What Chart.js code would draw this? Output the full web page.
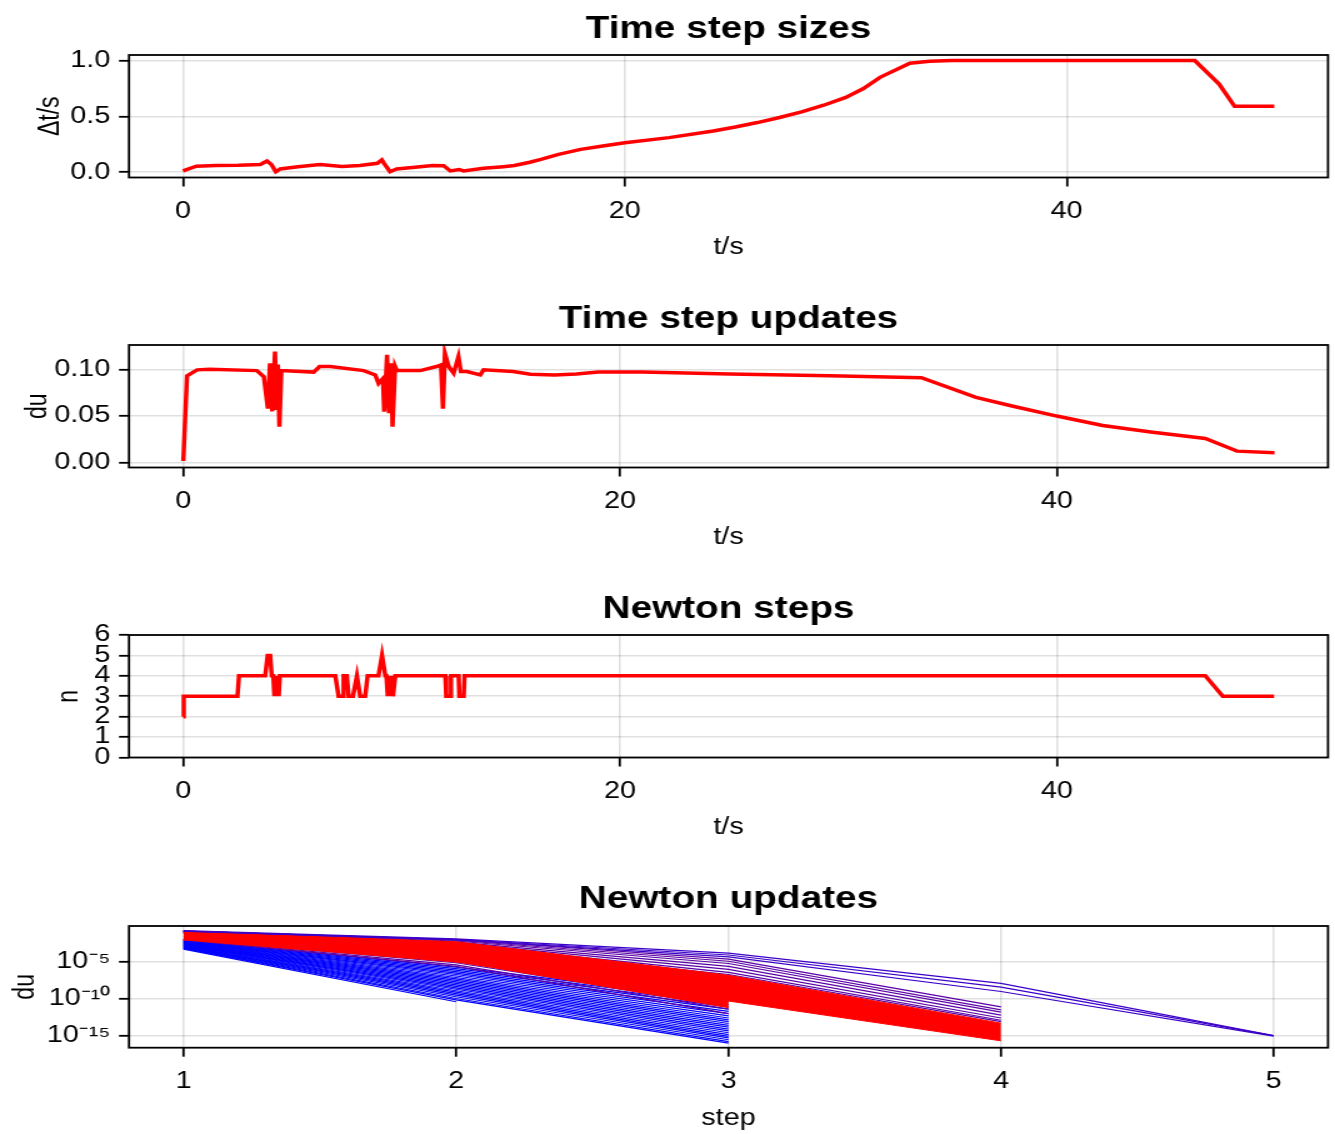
<!DOCTYPE html>
<html>
<head>
<meta charset="utf-8">
<script src="https://cdn.jsdelivr.net/npm/chart.js@4"></script>
<style>
body { margin: 0; background: #fff; }
canvas { display: block; }
</style>
</head>
<body>
<canvas id="sizes" width="1068" height="290" style="width:1335px;height:290px"></canvas>
<canvas id="updates" width="1068" height="290" style="width:1335px;height:290px"></canvas>
<canvas id="steps" width="1068" height="290" style="width:1335px;height:290px"></canvas>
<canvas id="newton" width="1068" height="264" style="width:1335px;height:264px"></canvas>
<script>
// Time step sizes
const sizeT = [0, 0.6, 1.5, 2.5, 3.5, 3.8, 4.0, 4.2, 4.4, 5.2, 6.2, 7.2, 8.0, 8.8, 9.0, 9.1, 9.37, 9.67, 10.5, 11.3, 11.8, 12.1, 12.5, 12.7, 13.6, 14.5, 15.0, 15.7, 16.2, 17, 18, 19, 20, 22, 24, 25, 26, 27, 28, 29, 30, 30.8, 31.55, 32.9, 33.8, 34.8, 45.8, 46.9, 47.6, 49.4];
const sizeDt = [0.012, 0.054, 0.06, 0.062, 0.069, 0.10, 0.07, 0.004, 0.03, 0.05, 0.07, 0.052, 0.06, 0.08, 0.11, 0.08, 0.005, 0.03, 0.045, 0.06, 0.058, 0.012, 0.025, 0.012, 0.035, 0.05, 0.06, 0.09, 0.115, 0.16, 0.205, 0.235, 0.265, 0.31, 0.37, 0.405, 0.445, 0.49, 0.54, 0.60, 0.67, 0.75, 0.85, 0.976, 0.995, 1.0, 1.0, 0.79, 0.59, 0.59];

// Time step updates
const updT = [0, 0.17, 0.63, 1.2, 3.37, 3.69, 3.87, 3.97, 4.07, 4.2, 4.27, 4.33, 4.4, 4.49, 5.97, 6.24, 6.73, 8.26, 8.79, 8.94, 9.14, 9.2, 9.33, 9.42, 9.51, 9.58, 9.7, 9.78, 10.85, 11.6, 11.8, 11.89, 11.98, 12.15, 12.38, 12.6, 12.71, 12.99, 13.6, 13.75, 15.1, 15.9, 17, 18, 19, 21, 25, 29.6, 33.8, 36.3, 37.9, 40, 42.1, 44.3, 46.8, 48.25, 49.97];
const updDu = [0.002, 0.093, 0.0994, 0.1, 0.0986, 0.092, 0.058, 0.1065, 0.055, 0.119, 0.0565, 0.105, 0.0386, 0.0986, 0.097, 0.103, 0.103, 0.0986, 0.094, 0.085, 0.09, 0.0547, 0.1155, 0.053, 0.1065, 0.0386, 0.103, 0.0986, 0.0986, 0.103, 0.1047, 0.058, 0.117, 0.103, 0.0958, 0.1136, 0.0976, 0.0976, 0.094, 0.0994, 0.0976, 0.0948, 0.094, 0.095, 0.097, 0.097, 0.095, 0.0932, 0.0911, 0.07, 0.061, 0.05, 0.04, 0.033, 0.026, 0.0125, 0.0107];

// Newton steps
const stepT = [0, 0.02, 2.48, 2.55, 3.75, 3.86, 3.98, 4.05, 4.12, 4.17, 4.22, 4.27, 4.32, 4.37, 4.42, 6.96, 7.11, 7.31, 7.34, 7.49, 7.57, 7.77, 7.95, 8.10, 8.33, 8.44, 8.94, 9.10, 9.25, 9.30, 9.36, 9.42, 9.48, 9.55, 9.60, 9.71, 12.0, 12.04, 12.22, 12.26, 12.61, 12.64, 12.84, 12.88, 46.8, 47.6, 49.95];
const stepN = [2, 3, 3, 4, 4, 5, 5, 4, 4, 3, 4, 3, 4, 3, 4, 4, 3, 3, 4, 4, 3, 3, 4, 3, 3, 4, 4, 5, 4, 4, 3, 4, 3, 4, 3, 4, 4, 3, 3, 4, 4, 3, 3, 4, 4, 3, 3];

// Newton updates: log10(du) per iteration, one run per time step
const blueRuns = [
  [-3.25, -10.4],
  [-3.17, -10.15, -16.0],
  [-3.12, -9.95, -15.8],
  [-3.06, -9.72, -15.55],
  [-3.0, -9.5, -15.3],
  [-2.95, -9.3, -15.1],
  [-2.9, -9.1, -14.85],
  [-2.86, -8.9, -14.6],
  [-2.8, -8.7, -14.35],
  [-2.75, -8.5, -14.1],
  [-2.7, -8.3, -13.85],
  [-2.66, -8.1, -13.6],
  [-2.6, -7.9, -13.35],
  [-2.55, -7.7, -13.1],
  [-2.5, -7.5, -12.85],
  [-2.46, -7.3, -12.6],
  [-2.4, -7.1, -12.3],
  [-2.35, -6.9, -12.0],
  [-2.3, -6.7, -11.7],
  [-2.26, -6.5, -11.4],
  [-2.2, -6.3, -11.1],
  [-2.15, -6.1, -10.8],
  [-2.1, -5.9, -10.5],
  [-2.05, -5.7, -10.2]
];
const purpleRuns = [
  [-0.8, -1.95, -4.6, -11.1],
  [-0.85, -2.05, -4.9, -11.5],
  [-0.9, -2.15, -5.2, -11.8],
  [-0.95, -2.3, -5.6, -12.2],
  [-1.0, -2.45, -6.0, -12.6],
  [-1.05, -2.6, -6.4, -12.9],
  [-1.1, -2.8, -6.7, -13.1],
  [-1.9, -5.1, -10.8],
  [-1.95, -5.4, -11.4],
  [-2.0, -5.6, -12.0]
];
const topRuns = [
  [-0.75, -1.85, -3.8, -7.9, -15.0],
  [-0.8, -1.95, -4.05, -8.4, -15.0],
  [-0.82, -2.0, -4.3, -9.0, -15.05]
];
const redBandTop = [-0.9, -2.25, -6.8, -13.3];
const redBandBottom = [-2.0, -5.0, -10.3, -15.7];
const redShortTop = [-1.5, -4.2, -10.3];
const redShortBottom = [-1.9, -4.9, -11.2];

const timeTicks = [0, 20, 40];
const sizeTicks = [0, 0.5, 1.0];
const updTicks = [0, 0.05, 0.1];
const nTicks = [0, 1, 2, 3, 4, 5, 6];
const iterTicks = [1, 2, 3, 4, 5];
const duTicks = [1e-15, 1e-10, 1e-5];
const duTickLabels = ['10⁻¹⁵', '10⁻¹⁰', '10⁻⁵'];

Chart.defaults.font.family = "'Liberation Sans', Arial, Helvetica, sans-serif";
Chart.defaults.color = '#000';

const gridColor = 'rgba(0,0,0,0.12)';

const framePlugin = {
    id: 'frame',
    afterDatasetsDraw(chart) {
        const a = chart.chartArea;
        const ctx = chart.ctx;
        ctx.save();
        ctx.strokeStyle = '#000';
        ctx.lineWidth = 1.8;
        ctx.strokeRect(a.left, a.top, a.right - a.left, a.bottom - a.top);
        ctx.restore();
    }
};

function makeChart(id, o) {
    o.datasets.forEach(d => { d.xAxisID = 'x'; d.yAxisID = 'y'; });
    return new Chart(document.getElementById(id), {
        type: 'line',
        data: { datasets: o.datasets },
        plugins: [framePlugin],
        options: {
            responsive: false,
            animation: false,
            devicePixelRatio: 1,
            layout: { padding: { left: o.padLeft, right: 5.6, top: 0, bottom: o.padBottom } },
            plugins: { legend: { display: false }, tooltip: { enabled: false } },
            elements: { point: { radius: 0 }, line: { tension: 0 } },
            scales: {
                x: {
                    type: 'linear',
                    position: 'bottom',
                    min: o.xMin,
                    max: o.xMax,
                    afterBuildTicks: s => { s.ticks = o.xTicks.map(v => ({ value: v })); },
                    afterFit: s => { s.height = o.xH; },
                    grid: { color: gridColor, lineWidth: 1.6, tickLength: 9, tickColor: '#000', tickWidth: 1.8 },
                    border: { display: false },
                    ticks: { font: { size: 23 }, padding: 11, maxRotation: 0, autoSkip: false },
                    title: { display: true, text: o.xTitle, font: { size: 23 }, padding: { top: 0, bottom: 0 } }
                },
                y: {
                    type: o.yType || 'linear',
                    position: 'left',
                    min: o.yMin,
                    max: o.yMax,
                    afterBuildTicks: s => { s.ticks = o.yTicks.map(v => ({ value: v })); },
                    afterFit: s => { s.width = 103.2 - o.padLeft; },
                    grid: { color: gridColor, lineWidth: 1.6, tickLength: 8, tickColor: '#000', tickWidth: 1.8 },
                    border: { display: false },
                    ticks: { font: { size: 23 }, padding: 7, autoSkip: false, callback: o.yFmt },
                    title: { display: true, text: o.yTitle, font: { size: 23 }, padding: { top: 0, bottom: 0 } }
                },
                tt: {
                    type: 'linear',
                    position: 'top',
                    min: 0,
                    max: 1,
                    grid: { display: false, drawTicks: false },
                    border: { display: false },
                    ticks: { display: false },
                    title: { display: true, text: o.title, font: { size: 31, weight: 'bold' }, padding: { top: 11, bottom: 0 } },
                    afterFit: s => { s.height = o.topH; }
                }
            }
        }
    });
}

const pts = (xs, ys) => xs.map((x, i) => ({ x: x, y: ys[i] }));
const redLine = data => ({ data: data, borderColor: '#ff0000', borderWidth: 3.5, fill: false });

makeChart('sizes', {
    title: 'Time step sizes', xTitle: 't/s', yTitle: 'Δt/s',
    xMin: -2.445, xMax: 51.83, xTicks: timeTicks,
    yMin: -0.047, yMax: 1.05, yTicks: sizeTicks, yFmt: v => v.toFixed(1),
    padLeft: 27, padBottom: 28.8, topH: 55, xH: 83.7,
    datasets: [redLine(pts(sizeT, sizeDt))]
});

makeChart('updates', {
    title: 'Time step updates', xTitle: 't/s', yTitle: 'du',
    xMin: -2.487, xMax: 52.42, xTicks: timeTicks,
    yMin: -0.005, yMax: 0.126, yTicks: updTicks, yFmt: v => v.toFixed(2),
    padLeft: 16.5, padBottom: 28.8, topH: 55, xH: 83.7,
    datasets: [redLine(pts(updT, updDu))]
});

makeChart('steps', {
    title: 'Newton steps', xTitle: 't/s', yTitle: 'n',
    xMin: -2.487, xMax: 52.42, xTicks: timeTicks,
    yMin: 0, yMax: 6, yTicks: nTicks, yFmt: v => String(v),
    padLeft: 42, padBottom: 28.8, topH: 55, xH: 83.7,
    datasets: [redLine(pts(stepT, stepN))]
});

const logPts = run => run.map((e, i) => ({ x: i + 1, y: Math.pow(10, e) }));
const thin = (run, color, order) => ({ data: logPts(run), borderColor: color, borderWidth: 1.2, fill: false, order: order });

const newtonSets = [];
topRuns.forEach(r => newtonSets.push(thin(r, '#3c00c8', 0)));
newtonSets.push({ data: logPts(redBandTop), borderColor: '#ff0000', borderWidth: 1, fill: false, order: 1 });
newtonSets.push({ data: logPts(redBandBottom), borderColor: '#ff0000', backgroundColor: '#ff0000', borderWidth: 1, fill: '-1', order: 1 });
newtonSets.push({ data: logPts(redShortTop), borderColor: '#ff0000', borderWidth: 1, fill: false, order: 1 });
newtonSets.push({ data: logPts(redShortBottom), borderColor: '#ff0000', backgroundColor: '#ff0000', borderWidth: 1, fill: '-1', order: 1 });
purpleRuns.forEach(r => newtonSets.push(thin(r, '#5a00a5', 2)));
blueRuns.forEach(r => newtonSets.push(thin(r, '#0000ff', 3)));

makeChart('newton', {
    title: 'Newton updates', xTitle: 'step', yTitle: 'du',
    xMin: 0.8, xMax: 5.2, xTicks: iterTicks,
    yType: 'logarithmic', yMin: Math.pow(10, -16.63), yMax: Math.pow(10, -0.115), yTicks: duTicks,
    yFmt: (v, i) => duTickLabels[i],
    padLeft: 7, padBottom: 1.8, topH: 56, xH: 84.5,
    datasets: newtonSets
});
</script>
</body>
</html>
